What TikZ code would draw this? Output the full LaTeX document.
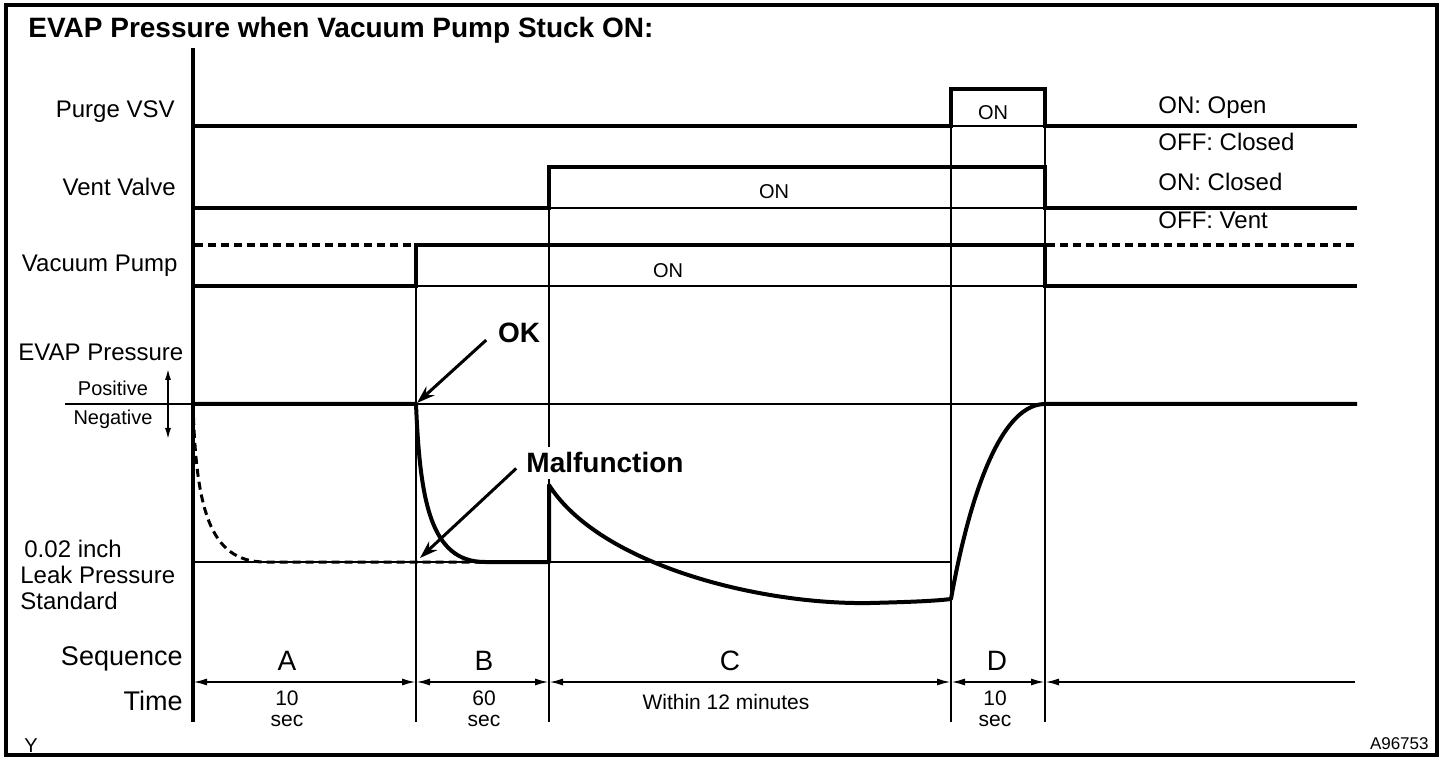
\documentclass[tikz,border=0pt]{standalone}
\usepackage{fontspec}
\setmainfont{Liberation Sans}
\usetikzlibrary{arrows.meta, positioning}

\begin{document}
\begin{tikzpicture}[x=0.5pt, y=-0.5pt,
    sig/.style={line width=2pt},
    sigdash/.style={line width=2pt, dash pattern=on 4pt off 2.5pt},
    curvedash/.style={line width=1.5pt, dash pattern=on 4pt off 2.5pt},
    gridline/.style={line width=0.6pt},
    rowlabel/.style={anchor=base east, inner sep=0pt, font=\fontsize{12}{14}\selectfont},
    state/.style={anchor=base west, inner sep=0pt, font=\fontsize{12}{14}\selectfont},
    onlabel/.style={anchor=base, inner sep=0pt, font=\fontsize{10}{12}\selectfont},
    small/.style={inner sep=0pt, font=\fontsize{10}{12}\selectfont},
    seq/.style={anchor=base, inner sep=0pt, font=\fontsize{14}{16}\selectfont},
    dur/.style={anchor=north, inner sep=0pt, align=center, font=\fontsize{10.5}{10.5}\selectfont},
    callout/.style={anchor=base, fill=white, inner xsep=2pt, inner ysep=3pt, font=\bfseries\fontsize{14}{16}\selectfont},
    pointer/.style={line width=1.5pt, -{Stealth[length=9pt,width=6pt]}},
    dim/.style={line width=1pt, {Latex[length=7pt,width=3.5pt]}-{Latex[length=7pt,width=3.5pt]}}]

    \useasboundingbox (0,0) rectangle (1456,764);
    \draw [line width=2pt] (6,5) rectangle (1437,755);

    \node [anchor=base west, inner sep=0pt, font=\bfseries\fontsize{14}{16}\selectfont] (title) at (28,38) {EVAP Pressure when Vacuum Pump Stuck ON:};

    \node [rowlabel] (purge) at (175,118) {Purge VSV};
    \node [rowlabel] (vent) at (176,196) {Vent Valve};
    \node [rowlabel] (pump) at (178,272) {Vacuum Pump};
    \node [anchor=base west, inner sep=0pt, font=\fontsize{12}{14}\selectfont] (evap) at (18,361) {EVAP Pressure};
    \node [small, anchor=base] (pos) at (113,396) {Positive};
    \node [small, below=6.5pt of pos] (neg) {Negative};
    \node [anchor=base west, inner sep=0pt, align=left, font=\fontsize{12}{13}\selectfont] (leak) at (20,609) {\,0.02 inch\\Leak Pressure\\Standard};
    \node [rowlabel, font=\fontsize{13.5}{16}\selectfont] (seqlbl) at (183,665) {Sequence};
    \node [rowlabel, font=\fontsize{13.5}{16}\selectfont] (timelbl) at (183,710) {Time};

    \node [onlabel] (onpurge) at (993,120) {ON};
    \node [onlabel] (onvent) at (774,199) {ON};
    \node [onlabel] (onpump) at (668,278) {ON};

    \node [state] (purgeon) at (1158,114) {ON: Open};
    \node [state] (purgeoff) at (1158,151) {OFF: Closed};
    \node [state] (venton) at (1158,191) {ON: Closed};
    \node [state] (ventoff) at (1158,229) {OFF: Vent};

    \node [seq] (seqA) at (287,670) {A};
    \node [seq] (seqB) at (484,670) {B};
    \node [seq] (seqC) at (730,670) {C};
    \node [seq] (seqD) at (997,670) {D};

    \node [dur] (durA) at (287,690) {10\\sec};
    \node [dur] (durB) at (484,690) {60\\sec};
    \node [anchor=base, inner sep=0pt, font=\fontsize{10.5}{12}\selectfont] (durC) at (726,709) {Within 12 minutes};
    \node [dur] (durD) at (995,690) {10\\sec};

    \node [anchor=base west, inner sep=0pt, font=\fontsize{10}{12}\selectfont] (yref) at (24,752) {Y};
    \node [anchor=base east, inner sep=0pt, font=\fontsize{8.5}{10}\selectfont] (figid) at (1429,749) {A96753};

    \draw [line width=2pt] (193,48) -- (193,722);

    \draw [gridline] (416,286) -- (416,722);
    \draw [gridline] (549,208) -- (549,722);
    \draw [gridline] (951,126) -- (951,722);
    \draw [line width=1pt] (1045,126) -- (1045,722);

    \draw [gridline] (951,126) -- (1045,126);
    \draw [gridline] (549,208) -- (1045,208);
    \draw [gridline] (416,286) -- (1045,286);
    \draw [gridline] (65,404) -- (193,404);
    \draw [gridline] (416,404) -- (1045,404);
    \draw [gridline] (193,562) -- (951,562);

    \draw [sig] (193,126) -- (951,126) -- (951,89) -- (1045,89) -- (1045,126) -- (1357,126);
    \draw [sig] (193,208) -- (549,208) -- (549,167) -- (1045,167) -- (1045,208) -- (1357,208);
    \draw [sigdash] (195,245) -- (416,245);
    \draw [sig] (193,286) -- (416,286) -- (416,245) -- (1045,245) -- (1045,286) -- (1357,286);
    \draw [sigdash] (1047,245) -- (1357,245);

    \node [callout] (ok) at (519,343) {OK};
    \node [callout] (malf) at (605,473) {Malfunction};

    \draw [curvedash] (193,404) .. controls (196,505) and (208,562) .. (265,562) -- (480,562);
    \draw [sig, line join=round] (193,404) -- (416,404) .. controls (420,500) and (430,562) .. (485,562) -- (549,562) -- (549,485)
        .. controls (600,565) and (760,605) .. (870,603) .. controls (910,602) and (935,601) .. (951,599)
        .. controls (965,520) and (995,404) .. (1045,404) -- (1357,404);

    \coordinate (posup) at (168,368);
    \coordinate (negdown) at (168,440);
    \draw [line width=1pt, {Latex[length=6pt,width=3pt]}-{Latex[length=6pt,width=3pt]}] (posup) -- (negdown);

    \coordinate (okpt) at (417,403);
    \coordinate (malfpt) at (420,558);
    \draw [pointer, shorten <=5pt] (ok.west) -- (okpt);
    \draw [pointer, shorten <=4pt] (malf.west) -- (malfpt);

    \coordinate (tA) at (193,682);
    \coordinate (tB) at (416,682);
    \coordinate (tC) at (549,682);
    \coordinate (tD) at (951,682);
    \coordinate (tE) at (1045,682);
    \coordinate (tEnd) at (1355,682);
    \draw [dim] (tA) -- (tB);
    \draw [dim] (tB) -- (tC);
    \draw [dim] (tC) -- (tD);
    \draw [dim] (tD) -- (tE);
    \draw [line width=1pt, {Latex[length=7pt,width=3.5pt]}-] (tE) -- (tEnd);
\end{tikzpicture}
\end{document}
